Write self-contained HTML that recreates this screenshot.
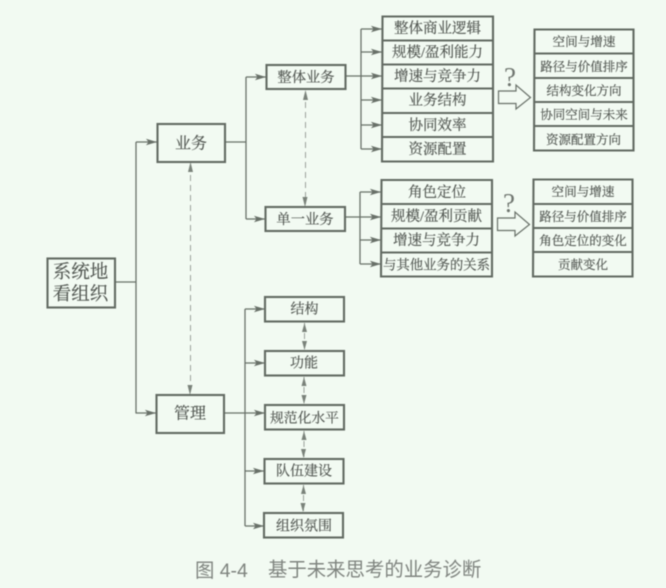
<!DOCTYPE html>
<html>
<head>
<meta charset="utf-8">
<style>
html,body{margin:0;padding:0;background:#f2faf2;width:666px;height:588px;overflow:hidden}
svg{display:block;filter:blur(.4px)}
text{font-family:"Liberation Serif","Noto Serif CJK SC",serif;fill:#4e534e;stroke:#4e534e;stroke-width:.15;text-anchor:middle;dominant-baseline:central}
.lbl{transform:translateY(1px)}
.cap{font-family:"Liberation Sans","Noto Sans CJK SC",sans-serif;fill:#7f847f;stroke:none;font-size:19.4px;text-anchor:start}
.b{fill:none;stroke:#626a62;stroke-width:2.1}
.l{fill:none;stroke:#687068;stroke-width:1.3}
.d{fill:none;stroke:#9aa29a;stroke-width:1;stroke-dasharray:6 4}
.h{fill:#f2faf2;stroke:#687068;stroke-width:1.2}
</style>
</head>
<body>
<svg width="666" height="588" viewBox="0 0 666 588" xmlns="http://www.w3.org/2000/svg">
<defs>
<marker id="a" markerWidth="12" markerHeight="8" refX="11" refY="4" orient="auto" markerUnits="userSpaceOnUse"><path d="M0 .8L11 4L0 7.200L2.500 4Z" fill="#687068"/></marker>
</defs>

<!-- connectors -->
<path class="l" d="M115 282H136M136 142V413"/>
<path class="l" d="M136 142H157" marker-end="url(#a)"/>
<path class="l" d="M135.500 413H156" marker-end="url(#a)"/>
<path class="l" d="M225 142H246M246 77V219"/>
<path class="l" d="M246 77H266" marker-end="url(#a)"/>
<path class="l" d="M246 219H265" marker-end="url(#a)"/>

<path class="l" d="M345 76H361M361 29V149"/>
<path class="l" d="M361 29H382" marker-end="url(#a)"/>
<path class="l" d="M361 52H382" marker-end="url(#a)"/>
<path class="l" d="M361 76H382" marker-end="url(#a)"/>
<path class="l" d="M361 100H382" marker-end="url(#a)"/>
<path class="l" d="M361 125H382" marker-end="url(#a)"/>
<path class="l" d="M361 149H382" marker-end="url(#a)"/>

<path class="l" d="M345 217H360M360 192V264"/>
<path class="l" d="M360 192H381" marker-end="url(#a)"/>
<path class="l" d="M360 217H381" marker-end="url(#a)"/>
<path class="l" d="M360 240H381" marker-end="url(#a)"/>
<path class="l" d="M360 264H381" marker-end="url(#a)"/>

<path class="l" d="M224 413H245M245 309V526"/>
<path class="l" d="M245 309H265" marker-end="url(#a)"/>
<path class="l" d="M245 363H265" marker-end="url(#a)"/>
<path class="l" d="M245 413H265" marker-end="url(#a)"/>
<path class="l" d="M245 471H264" marker-end="url(#a)"/>
<path class="l" d="M245 526H264" marker-end="url(#a)"/>

<!-- dashed double arrows -->
<path class="d" d="M190.500 165V392"/>
<path d="M190.500 162L188 172H193ZM190 395L187.500 385H192.500Z" fill="#7a827a"/>
<path class="d" d="M305.500 92V204"/>
<path d="M305.500 90L303 100H308ZM305 207L302.500 197H307.500Z" fill="#7a827a"/>
<path class="d" d="M304.500 323V349" stroke-dasharray="4 3"/>
<path d="M304.500 323L302 332H307ZM304.500 350L302 341H307Z" fill="#7a827a"/>
<path class="d" d="M304 377V403" stroke-dasharray="4 3"/>
<path d="M304 377L301.500 386H306.500ZM304 404L301.500 395H306.500Z" fill="#7a827a"/>
<path class="d" d="M304 431V457" stroke-dasharray="4 3"/>
<path d="M304 431L301.500 440H306.500ZM303.500 458L301 449H306Z" fill="#7a827a"/>
<path class="d" d="M303.500 485V511" stroke-dasharray="4 3"/>
<path d="M303.500 485L301 494H306ZM303 512L300.500 503H305.500Z" fill="#7a827a"/>

<!-- main boxes -->
<rect class="b" x="47.500" y="258.500" width="67.500" height="49"/>
<rect class="b" x="157.500" y="124" width="67.500" height="38"/>
<rect class="b" x="156.500" y="395" width="67.500" height="38"/>
<rect class="b" x="266.500" y="65" width="79" height="24"/>
<rect class="b" x="265.500" y="207" width="79.500" height="24"/>
<rect class="b" x="265" y="297" width="79" height="24.500"/>
<rect class="b" x="265" y="351" width="79" height="24.500"/>
<rect class="b" x="265" y="405" width="79" height="24.500"/>
<rect class="b" x="264.500" y="459" width="79" height="24.500"/>
<rect class="b" x="264" y="513" width="79" height="24.500"/>

<!-- stacks -->
<path class="b" d="M382.500 16.500H493V161.500H382ZM382.500 40.500H493M382.500 64.500H493M382.500 88.500H493M382.500 113H493M382.500 137H493"/>
<path class="b" d="M381.500 180H492V276.500H381ZM381.500 204H492M381.500 228.500H492M381.500 252.500H492"/>
<path class="b" d="M534.500 29.500H633.500V150.500H534ZM534.500 53.500H633.500M534.500 78H633.500M534.500 102H633.500M534.500 126H633.500"/>
<path class="b" d="M533.500 179.500H632.500V276.500H533ZM533.500 204H632.500M533.500 228H632.500M533.500 252H632.500"/>

<!-- hollow arrows -->
<path class="h" d="M498.500 91H516V85L530.500 97.500L516 109V103.500H498.500Z"/>
<path class="h" d="M497.500 218H515V212L529.500 224.500L515 236V230.500H497.500Z"/>
<text x="510" y="77" font-size="27" style="fill:#6f756f;stroke:none">?</text>
<text x="509" y="203" font-size="27" style="fill:#6f756f;stroke:none">?</text>

<!-- labels -->
<g class="lbl">
<text font-size="18.500" x="80.500" y="272">系统地</text>
<text font-size="18.500" x="80.500" y="294">看组织</text>
<text font-size="16" x="191" y="143">业务</text>
<text font-size="16" x="190" y="413">管理</text>
<text font-size="14.300" x="306" y="77">整体业务</text>
<text font-size="14.300" x="305" y="219">单一业务</text>
<text font-size="14" x="304.500" y="309">结构</text>
<text font-size="14" x="304" y="363">功能</text>
<text font-size="13.800" x="304.500" y="417">规范化水平</text>
<text font-size="14" x="304" y="471">队伍建设</text>
<text font-size="14" x="304" y="526">组织氛围</text>

<text font-size="14.500" x="437.500" y="28">整体商业逻辑</text>
<text font-size="14.500" x="437.500" y="52">规模/盈利能力</text>
<text font-size="14.500" x="437.500" y="76">增速与竞争力</text>
<text font-size="14.500" x="437.500" y="100">业务结构</text>
<text font-size="14.500" x="437.500" y="125">协同效率</text>
<text font-size="14.500" x="437.500" y="149">资源配置</text>

<text font-size="14.500" x="437" y="192">角色定位</text>
<text font-size="14.500" x="436.500" y="216">规模/盈利贡献</text>
<text font-size="14.500" x="436.500" y="240">增速与竞争力</text>
<text font-size="13.400" x="436.500" y="264">与其他业务的关系</text>

<text font-size="12.600" x="584" y="41">空间与增速</text>
<text font-size="12.500" x="584" y="66">路径与价值排序</text>
<text font-size="12.500" x="584" y="90">结构变化方向</text>
<text font-size="12.500" x="584" y="114">协同空间与未来</text>
<text font-size="12.500" x="583.500" y="139">资源配置方向</text>

<text font-size="12.600" x="583" y="191">空间与增速</text>
<text font-size="12.500" x="583" y="216">路径与价值排序</text>
<text font-size="12.500" x="583" y="240">角色定位的变化</text>
<text font-size="12.500" x="583" y="264">贡献变化</text>
</g>

<!-- caption -->
<text class="cap" x="195" y="571">图 4-4</text>
<text class="cap" x="268" y="570">基于未来思考的业务诊断</text>
</svg>
</body>
</html>
